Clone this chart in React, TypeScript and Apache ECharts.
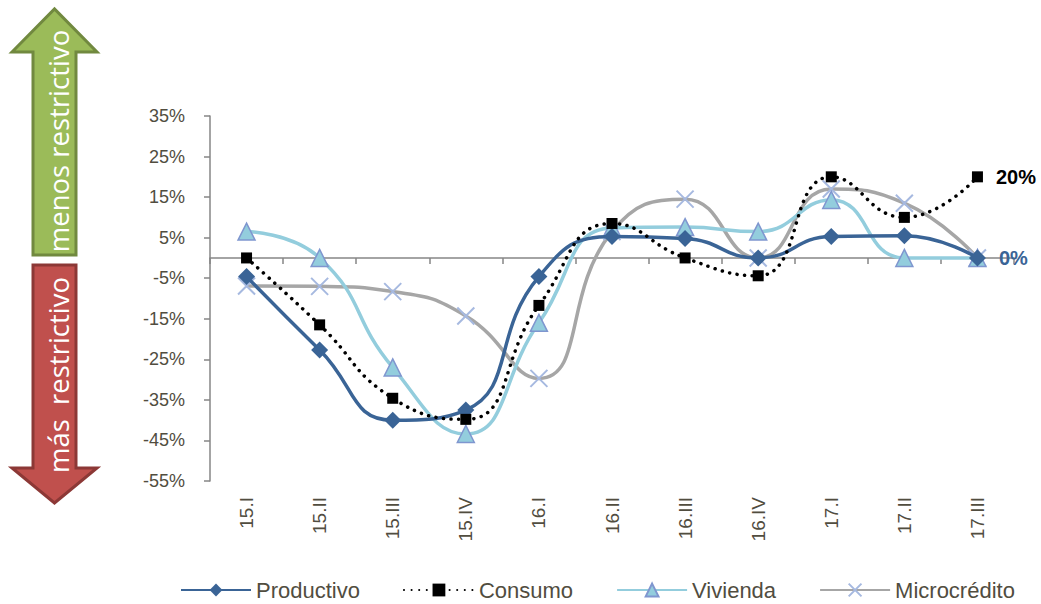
import React, { useEffect, useRef } from "react";
import * as echarts from "echarts";

const categories = ["15.I", "15.II", "15.III", "15.IV", "16.I", "16.II", "16.III", "16.IV", "17.I", "17.II", "17.III"];
const productivo = [-4.6, -22.7, -40, -37.5, -4.6, 5.3, 4.8, 0, 5.3, 5.5, 0];
const consumo = [0, -16.5, -34.6, -39.8, -11.7, 8.5, 0, -4.4, 20, 10, 20];
const vivienda = [6.5, 0, -27, -43.4, -16, 7.4, 7.6, 6.5, 14.3, 0, 0];
const microcredito = [-6.9, -7, -8.3, -14.3, -29.7, 6.5, 14.5, 0, 17, 13.5, 0];
const yTicks = [-55, -45, -35, -25, -15, -5, 5, 15, 25, 35];

const NARROW = "'Liberation Sans Narrow', 'Arial Narrow', 'Liberation Sans', Arial, sans-serif";
const TXT = "#514d3f";

function lastLabel(values: number[], color: string) {
  return values.map((v, i) =>
    i === values.length - 1
      ? {
          value: v,
          label: {
            show: true,
            position: "right",
            distance: 13,
            formatter: (p: any) => `${p.value}%`,
            fontFamily: NARROW,
            fontWeight: "bold",
            fontSize: 20,
            color,
          },
        }
      : v
  );
}

export default function App() {
  const ref = useRef<HTMLDivElement>(null);
  useEffect(() => {
    if (!ref.current) return;
    const chart = echarts.init(ref.current, null, { renderer: "svg" });
    const xSymbol = "path://M0,0L10,10M10,0L0,10";
    chart.setOption({
      animation: false,
      backgroundColor: "#ffffff",
      grid: { left: 210, right: 27, top: 116, bottom: 123 },
      legend: {
        left: 178,
        top: 576,
        padding: 2,
        itemWidth: 70,
        itemHeight: 16,
        itemGap: 43,
        textStyle: { fontFamily: NARROW, fontSize: 22, color: TXT, lineHeight: 24 },
        data: ["Productivo", "Consumo", "Vivienda", "Microcrédito"],
      },
      xAxis: [
        {
          type: "category",
          data: categories,
          position: "bottom",
          axisLine: { onZero: true, lineStyle: { color: "#868686", width: 1.5 } },
          axisTick: { show: true, length: 6, lineStyle: { color: "#868686", width: 1.5 } },
          axisLabel: { show: false },
        },
        {
          type: "category",
          data: categories,
          position: "bottom",
          axisLine: { show: false, onZero: false },
          axisTick: { show: false },
          axisLabel: {
            rotate: 90,
            margin: 16,
            fontFamily: NARROW,
            fontSize: 19,
            color: TXT,
          },
        },
      ],
      yAxis: {
        type: "value",
        min: -55,
        max: 35,
        splitLine: { show: false },
        axisLine: { show: true, lineStyle: { color: "#868686", width: 1.5 } },
        axisTick: { show: true, length: 6, customValues: yTicks, lineStyle: { color: "#868686", width: 1.5 } },
        axisLabel: {
          customValues: yTicks,
          margin: 25,
          formatter: (v: number) => `${v}%`,
          fontFamily: NARROW,
          fontSize: 18,
          color: TXT,
        },
      },
      graphic: [
        {
          type: "polygon",
          shape: { points: [[12, 52], [54.5, 9], [97, 52], [76, 52], [76, 255], [33, 255], [33, 52]] },
          style: { fill: "#9bbb59", stroke: "#71893f", lineWidth: 3 },
        },
        {
          type: "polygon",
          shape: { points: [[33, 265], [76, 265], [76, 468], [97, 468], [54.5, 503], [12, 468], [33, 468]] },
          style: { fill: "#c0504d", stroke: "#8c3836", lineWidth: 3 },
        },
        {
          type: "text",
          x: 58,
          y: 141,
          rotation: Math.PI / 2,
          style: {
            text: "menos restrictivo",
            fill: "#ffffff",
            fontFamily: "'Open Sans', sans-serif",
            fontSize: 27.5,
            align: "center",
            verticalAlign: "middle",
          },
        },
        {
          type: "text",
          x: 58,
          y: 375,
          rotation: Math.PI / 2,
          style: {
            text: "más  restrictivo",
            fill: "#ffffff",
            fontFamily: "'Open Sans', sans-serif",
            fontSize: 27.5,
            align: "center",
            verticalAlign: "middle",
          },
        },
      ],
      series: [
        {
          name: "Productivo",
          type: "line",
          data: lastLabel(productivo, "#3a6496"),
          smooth: 0.5,
          symbol: "diamond",
          symbolSize: 17,
          lineStyle: { color: "#3a6496", width: 3.5 },
          itemStyle: { color: "#3a6496" },
          z: 4,
        },
        {
          name: "Consumo",
          type: "line",
          data: lastLabel(consumo, "#000000"),
          smooth: 0.5,
          symbol: "rect",
          symbolSize: 11,
          lineStyle: { color: "#000000", width: 3.5, type: [0.1, 7.5], cap: "round" },
          itemStyle: { color: "#000000" },
          z: 5,
        },
        {
          name: "Vivienda",
          type: "line",
          data: vivienda,
          smooth: 0.5,
          symbol: "triangle",
          symbolSize: 17,
          lineStyle: { color: "#93cddd", width: 3.5 },
          itemStyle: { color: "#93cddd", borderColor: "#7f96cf", borderWidth: 1.5 },
          z: 3,
        },
        {
          name: "Microcrédito",
          type: "line",
          data: microcredito,
          smooth: 0.5,
          symbol: xSymbol,
          symbolSize: 17,
          lineStyle: { color: "#a6a6a6", width: 3.5 },
          itemStyle: { color: "rgba(0,0,0,0)", borderColor: "#a6b9e0", borderWidth: 2 },
          z: 2,
        },
      ],
    });
    return () => chart.dispose();
  }, []);
  return <div ref={ref} style={{ position: "fixed", left: 0, top: 0, width: 1041, height: 604 }} />;
}
